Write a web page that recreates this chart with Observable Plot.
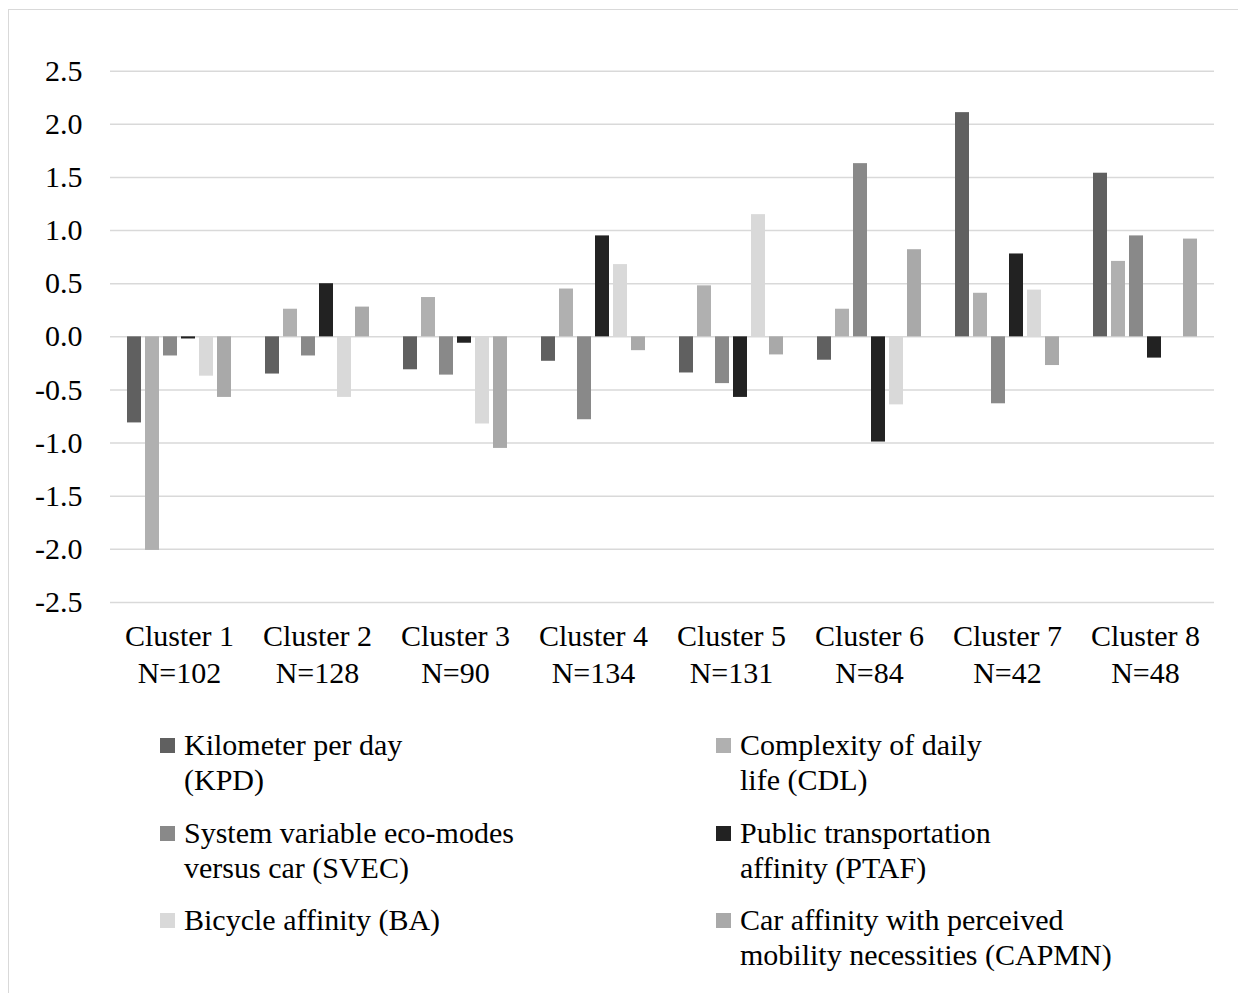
<!DOCTYPE html>
<html>
<head>
<meta charset="utf-8">
<script src="https://cdn.jsdelivr.net/npm/d3@7"></script>
<script src="https://cdn.jsdelivr.net/npm/@observablehq/plot@0.6"></script>
<style>
  body { margin: 0; background: #fff; }
  #wrap { position: relative; width: 1238px; height: 993px; overflow: hidden; font-family: "Liberation Serif", "Times New Roman", serif; color: #000; }
  #border { position: absolute; left: 8px; top: 9px; width: 1300px; height: 1100px; border-left: 1.5px solid #d9d9d9; border-top: 1.5px solid #d9d9d9; }
  #chart { position: absolute; left: 0; top: 0; }
  .item { position: absolute; display: flex; align-items: flex-start; font-size: 30px; line-height: 35px; }
  .sw { width: 15px; height: 15px; margin-top: 11px; margin-right: 9px; flex: none; }
</style>
</head>
<body>
<div id="wrap">
  <div id="border"></div>
  <div id="chart"></div>
  <div id="legend"></div>
</div>
<script>
const clusters = ["Cluster 1", "Cluster 2", "Cluster 3", "Cluster 4", "Cluster 5", "Cluster 6", "Cluster 7", "Cluster 8"];
const clusterN = ["N=102", "N=128", "N=90", "N=134", "N=131", "N=84", "N=42", "N=48"];
const seriesCodes = ["KPD", "CDL", "SVEC", "PTAF", "BA", "CAPMN"];
const seriesLabels = [
  ["Kilometer per day", "(KPD)"],
  ["Complexity of daily", "life (CDL)"],
  ["System variable eco-modes", "versus car (SVEC)"],
  ["Public transportation", "affinity (PTAF)"],
  ["Bicycle affinity (BA)"],
  ["Car affinity with perceived", "mobility necessities (CAPMN)"]
];
const seriesColors = ["#606060", "#b0b0b0", "#898989", "#222222", "#d9d9d9", "#a9a9a9"];

const KPD   = [-0.81, -0.35, -0.31, -0.23, -0.34, -0.22, 2.11, 1.54];
const CDL   = [-2.01,  0.26,  0.37,  0.45,  0.48,  0.26, 0.41, 0.71];
const SVEC  = [-0.18, -0.18, -0.36, -0.78, -0.44,  1.63, -0.63, 0.95];
const PTAF  = [-0.02,  0.50, -0.06,  0.95, -0.57, -0.99, 0.78, -0.20];
const BA    = [-0.37, -0.57, -0.82,  0.68,  1.15, -0.64, 0.44, 0.00];
const CAPMN = [-0.57,  0.28, -1.05, -0.13, -0.17,  0.82, -0.27, 0.92];

const yTicks = [-2.5, -2.0, -1.5, -1.0, -0.5, 0, 0.5, 1.0, 1.5, 2.0, 2.5];

const seriesValues = [KPD, CDL, SVEC, PTAF, BA, CAPMN];
const data = [];
clusters.forEach((c, i) => {
  seriesCodes.forEach((s, j) => {
    data.push({cluster: c, series: s, value: seriesValues[j][i]});
  });
});

const clusterLabel = new Map(clusters.map((c, i) => [c, c + "\n" + clusterN[i]]));

const chart = Plot.plot({
  width: 1238,
  height: 710,
  marginLeft: 108,
  marginRight: 23,
  marginTop: 70.7,
  marginBottom: 108,
  style: {fontFamily: "'Liberation Serif', 'Times New Roman', serif", fontSize: "30px", color: "#000", background: "transparent"},
  fx: {domain: clusters, padding: 0},
  x: {domain: seriesCodes, paddingInner: 0.22, paddingOuter: 0.85, axis: null},
  y: {domain: [-2.5, 2.5]},
  color: {domain: seriesCodes, range: seriesColors},
  marks: [
    Plot.gridY(yTicks, {stroke: "#d9d9d9", strokeOpacity: 1, strokeWidth: 1.5}),
    Plot.barY(data, {fx: "cluster", x: "series", y: "value", fill: "series"}),
    Plot.axisY(yTicks, {tickSize: 0, tickPadding: 28, fontSize: 30, fill: "#000", tickFormat: d => d.toFixed(1), label: null}),
    Plot.axisFx({anchor: "bottom", tickSize: 0, tickPadding: 17, fontSize: 30, lineHeight: 1.23, fill: "#000", tickFormat: d => clusterLabel.get(d), label: null})
  ]
});
document.getElementById("chart").appendChild(chart);

// legend
const legend = document.getElementById("legend");
const colLeft = [160, 716];
const rowTop = [727, 814.5, 902];
seriesCodes.forEach((s, j) => {
  const item = document.createElement("div");
  item.className = "item";
  item.style.left = colLeft[j % 2] + "px";
  item.style.top = rowTop[Math.floor(j / 2)] + "px";
  const sw = document.createElement("div");
  sw.className = "sw";
  sw.style.background = seriesColors[j];
  const txt = document.createElement("div");
  txt.innerHTML = seriesLabels[j].join("<br>");
  item.appendChild(sw);
  item.appendChild(txt);
  legend.appendChild(item);
});
</script>
</body>
</html>
